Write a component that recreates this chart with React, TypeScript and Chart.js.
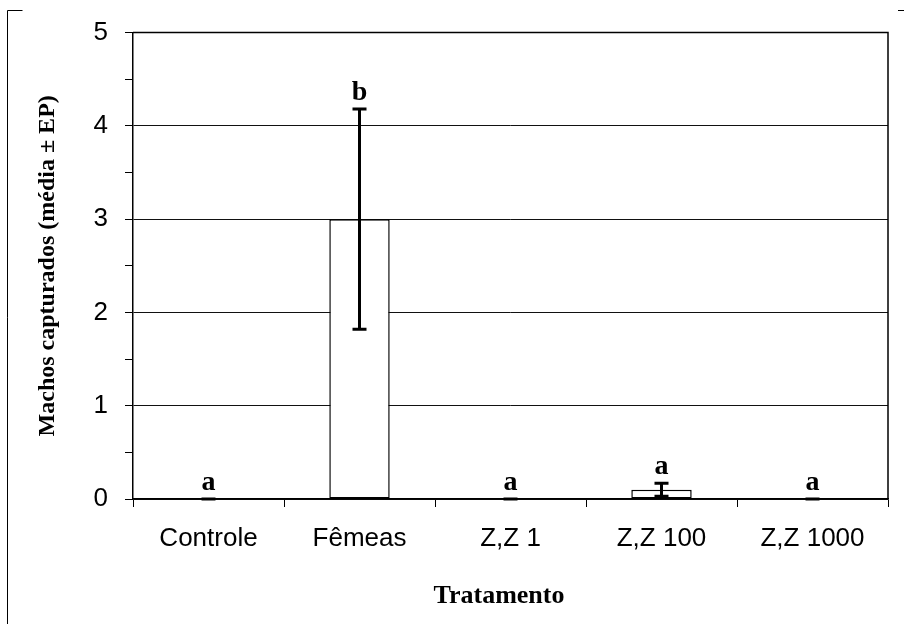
import React, { useEffect, useRef } from "react";
import { Chart, registerables } from "chart.js";

Chart.register(...registerables);

const categories = ["Controle", "Fêmeas", "Z,Z 1", "Z,Z 100", "Z,Z 1000"];
const means = [0, 3, 0, 0.1, 0];
const errors = [0, 1.18, 0, 0.07, 0];
const letters = ["a", "b", "a", "a", "a"];
const yTitle = "Machos capturados (média ± EP)";
const xTitle = "Tratamento";
const yMin = 0;
const yMax = 5;

const SERIF = "'Times New Roman', 'Liberation Serif', serif";
const SANS = "Arial, 'Liberation Sans', sans-serif";

const extrasPlugin = {
  id: "extras",
  afterDatasetsDraw(chart: any) {
    const { ctx, chartArea } = chart;
    const xs = chart.scales.x;
    const ys = chart.scales.y;
    ctx.save();
    // top and right border of plot area
    ctx.strokeStyle = "#000";
    ctx.lineWidth = 1.5;
    ctx.beginPath();
    ctx.moveTo(chartArea.left, chartArea.top);
    ctx.lineTo(chartArea.right, chartArea.top);
    ctx.lineTo(chartArea.right, chartArea.bottom);
    ctx.stroke();

    // error bars and letters
    means.forEach((m, i) => {
      const x = xs.getPixelForValue(i);
      const yTop = ys.getPixelForValue(m + errors[i]);
      const yBot = ys.getPixelForValue(Math.max(0, m - errors[i]));
      ctx.strokeStyle = "#000";
      ctx.lineWidth = 3;
      ctx.beginPath();
      if (errors[i] > 0) {
        ctx.moveTo(x, yTop);
        ctx.lineTo(x, yBot);
      }
      ctx.moveTo(x - 7, yTop);
      ctx.lineTo(x + 7, yTop);
      if (errors[i] > 0) {
        ctx.moveTo(x - 7, yBot);
        ctx.lineTo(x + 7, yBot);
      }
      ctx.stroke();
      ctx.fillStyle = "#000";
      ctx.font = `bold 28px ${SERIF}`;
      ctx.textAlign = "center";
      ctx.textBaseline = "alphabetic";
      ctx.fillText(letters[i], x, yTop - 9);
    });

    // x axis title
    ctx.font = `bold 26px ${SERIF}`;
    ctx.textAlign = "center";
    ctx.textBaseline = "alphabetic";
    ctx.fillText(xTitle, 499, 603);

    // outer frame fragments
    ctx.lineWidth = 1;
    ctx.beginPath();
    ctx.moveTo(7.5, 624);
    ctx.lineTo(7.5, 10.5);
    ctx.lineTo(22.5, 10.5);
    ctx.moveTo(898, 10.5);
    ctx.lineTo(904, 10.5);
    ctx.stroke();
    ctx.restore();
  },
};

export default function App() {
  const ref = useRef<HTMLCanvasElement>(null);
  useEffect(() => {
    if (!ref.current) return;
    const chart = new Chart(ref.current, {
      type: "bar",
      data: {
        labels: categories,
        datasets: [
          {
            data: means,
            backgroundColor: "#fff",
            borderColor: "#000",
            borderWidth: (c: any) => (c.raw === 0 ? 0 : 1.5),
            borderSkipped: false,
            categoryPercentage: 1,
            barPercentage: 0.4,
          },
        ],
      },
      options: {
        responsive: false,
        animation: false,
        devicePixelRatio: 1,
        layout: { padding: { left: 0, top: 31, right: 16, bottom: 0 } },
        plugins: {
          legend: { display: false },
          tooltip: { enabled: false },
        },
        scales: {
          x: {
            offset: true,
            grid: {
              offset: true,
              drawOnChartArea: false,
              drawTicks: true,
              tickLength: 8,
              color: "#000",
              tickColor: "#000",
              lineWidth: 1,
            },
            border: { display: true, color: "#000", width: 1.5 },
            ticks: {
              color: "#000",
              font: { family: SANS, size: 26 },
              padding: 16,
              maxRotation: 0,
              autoSkip: false,
            },
            afterFit: (s: any) => {
              s.height = 125;
            },
          },
          y: {
            min: yMin,
            max: yMax,
            grid: {
              color: (c: any) =>
                c.tick && c.tick.value % 1 === 0 ? "#111" : "rgba(0,0,0,0)",
              tickColor: "#000",
              tickLength: 8,
              lineWidth: 1,
            },
            border: { display: true, color: "#000", width: 1.5 },
            ticks: {
              stepSize: 0.5,
              autoSkip: false,
              color: "#000",
              font: { family: SANS, size: 26 },
              padding: 17,
              callback: (v: any) => (Number(v) % 1 === 0 ? String(v) : ""),
            },
            title: {
              display: true,
              text: yTitle,
              color: "#000",
              font: { family: SERIF, size: 24, weight: "bold" },
              padding: { top: 33, bottom: 0 },
            },
            afterFit: (s: any) => {
              s.width = 133;
            },
          },
        },
      },
      plugins: [extrasPlugin],
    });
    return () => chart.destroy();
  }, []);
  return (
    <div
      style={{
        position: "fixed",
        left: 0,
        top: 0,
        width: 904,
        height: 624,
        background: "#fff",
      }}
    >
      <canvas ref={ref} width={904} height={624} />
    </div>
  );
}
